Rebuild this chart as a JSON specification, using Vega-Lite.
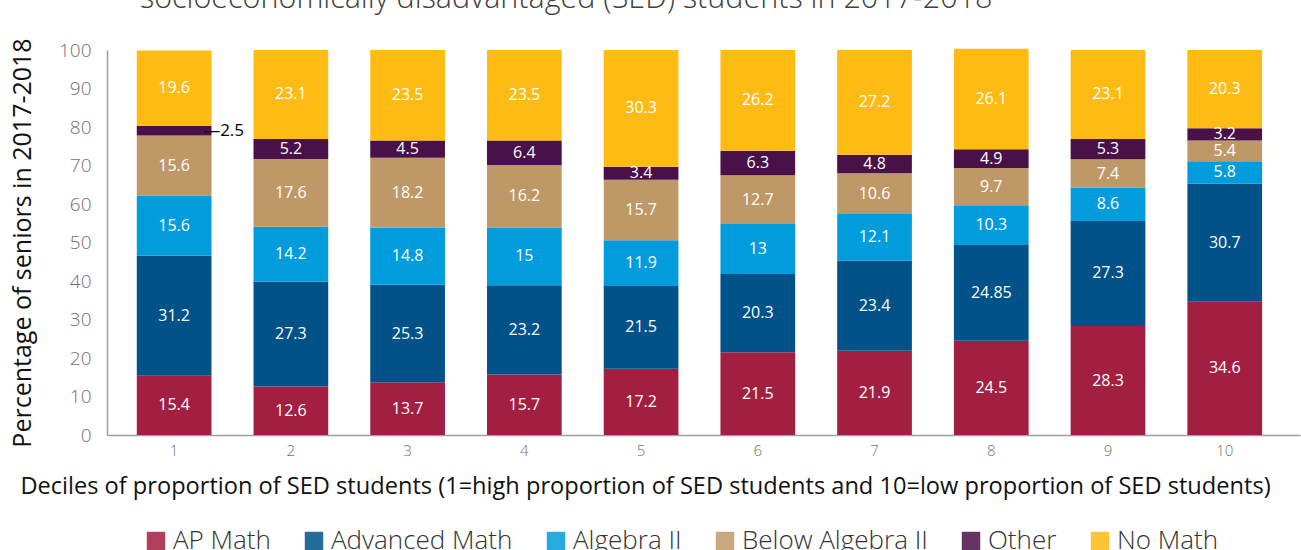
{
  "$schema": "https://vega.github.io/schema/vega-lite/v6.json",
  "autosize": {"type": "none"},
  "width": 1193,
  "height": 385,
  "padding": {"left": 107, "top": 50, "right": 1, "bottom": 115},
  "background": "white",
  "title": {
    "text": "socioeconomically disadvantaged (SED) students in 2017-2018",
    "anchor": "start",
    "frame": "group",
    "dx": 33,
    "offset": -1,
    "baseline": "alphabetic",
    "font": "Open Sans",
    "fontSize": 30.5,
    "fontWeight": 300,
    "color": "#404040"
  },
  "config": {
    "view": {"stroke": null},
    "font": "Open Sans",
    "axisY": {
      "tickCount": 10,
      "labelOverlap": false,
      "grid": false,
      "ticks": false,
      "labelFontSize": 19,
      "labelColor": "#707070",
      "labelFontWeight": 300,
      "labelPadding": 16,
      "domainColor": "#a0a0a0",
      "domainWidth": 1.5,
      "titleFontSize": 25,
      "titleFontWeight": "normal",
      "titleColor": "#111111",
      "titlePadding": 23
    }
  },
  "data": {
    "values": [
      {"d": 1, "c": "AP Math", "k": 1, "v": 15.4},
      {"d": 1, "c": "Advanced Math", "k": 2, "v": 31.2},
      {"d": 1, "c": "Algebra II", "k": 3, "v": 15.6},
      {"d": 1, "c": "Below Algebra II", "k": 4, "v": 15.6},
      {"d": 1, "c": "Other", "k": 5, "v": 2.5},
      {"d": 1, "c": "No Math", "k": 6, "v": 19.6},
      {"d": 2, "c": "AP Math", "k": 1, "v": 12.6},
      {"d": 2, "c": "Advanced Math", "k": 2, "v": 27.3},
      {"d": 2, "c": "Algebra II", "k": 3, "v": 14.2},
      {"d": 2, "c": "Below Algebra II", "k": 4, "v": 17.6},
      {"d": 2, "c": "Other", "k": 5, "v": 5.2},
      {"d": 2, "c": "No Math", "k": 6, "v": 23.1},
      {"d": 3, "c": "AP Math", "k": 1, "v": 13.7},
      {"d": 3, "c": "Advanced Math", "k": 2, "v": 25.3},
      {"d": 3, "c": "Algebra II", "k": 3, "v": 14.8},
      {"d": 3, "c": "Below Algebra II", "k": 4, "v": 18.2},
      {"d": 3, "c": "Other", "k": 5, "v": 4.5},
      {"d": 3, "c": "No Math", "k": 6, "v": 23.5},
      {"d": 4, "c": "AP Math", "k": 1, "v": 15.7},
      {"d": 4, "c": "Advanced Math", "k": 2, "v": 23.2},
      {"d": 4, "c": "Algebra II", "k": 3, "v": 15},
      {"d": 4, "c": "Below Algebra II", "k": 4, "v": 16.2},
      {"d": 4, "c": "Other", "k": 5, "v": 6.4},
      {"d": 4, "c": "No Math", "k": 6, "v": 23.5},
      {"d": 5, "c": "AP Math", "k": 1, "v": 17.2},
      {"d": 5, "c": "Advanced Math", "k": 2, "v": 21.5},
      {"d": 5, "c": "Algebra II", "k": 3, "v": 11.9},
      {"d": 5, "c": "Below Algebra II", "k": 4, "v": 15.7},
      {"d": 5, "c": "Other", "k": 5, "v": 3.4},
      {"d": 5, "c": "No Math", "k": 6, "v": 30.3},
      {"d": 6, "c": "AP Math", "k": 1, "v": 21.5},
      {"d": 6, "c": "Advanced Math", "k": 2, "v": 20.3},
      {"d": 6, "c": "Algebra II", "k": 3, "v": 13},
      {"d": 6, "c": "Below Algebra II", "k": 4, "v": 12.7},
      {"d": 6, "c": "Other", "k": 5, "v": 6.3},
      {"d": 6, "c": "No Math", "k": 6, "v": 26.2},
      {"d": 7, "c": "AP Math", "k": 1, "v": 21.9},
      {"d": 7, "c": "Advanced Math", "k": 2, "v": 23.4},
      {"d": 7, "c": "Algebra II", "k": 3, "v": 12.1},
      {"d": 7, "c": "Below Algebra II", "k": 4, "v": 10.6},
      {"d": 7, "c": "Other", "k": 5, "v": 4.8},
      {"d": 7, "c": "No Math", "k": 6, "v": 27.2},
      {"d": 8, "c": "AP Math", "k": 1, "v": 24.5},
      {"d": 8, "c": "Advanced Math", "k": 2, "v": 24.85},
      {"d": 8, "c": "Algebra II", "k": 3, "v": 10.3},
      {"d": 8, "c": "Below Algebra II", "k": 4, "v": 9.7},
      {"d": 8, "c": "Other", "k": 5, "v": 4.9},
      {"d": 8, "c": "No Math", "k": 6, "v": 26.1},
      {"d": 9, "c": "AP Math", "k": 1, "v": 28.3},
      {"d": 9, "c": "Advanced Math", "k": 2, "v": 27.3},
      {"d": 9, "c": "Algebra II", "k": 3, "v": 8.6},
      {"d": 9, "c": "Below Algebra II", "k": 4, "v": 7.4},
      {"d": 9, "c": "Other", "k": 5, "v": 5.3},
      {"d": 9, "c": "No Math", "k": 6, "v": 23.1},
      {"d": 10, "c": "AP Math", "k": 1, "v": 34.6},
      {"d": 10, "c": "Advanced Math", "k": 2, "v": 30.7},
      {"d": 10, "c": "Algebra II", "k": 3, "v": 5.8},
      {"d": 10, "c": "Below Algebra II", "k": 4, "v": 5.4},
      {"d": 10, "c": "Other", "k": 5, "v": 3.2},
      {"d": 10, "c": "No Math", "k": 6, "v": 20.3}
    ]
  },
  "transform": [
    {"stack": "v", "groupby": ["d"], "sort": [{"field": "k", "order": "ascending"}], "as": ["y0", "y1"]},
    {"calculate": "(datum.y0 + datum.y1) / 2", "as": "mid"}
  ],
  "encoding": {
    "x": {
      "field": "d",
      "type": "ordinal",
      "scale": {"paddingInner": 0.36, "paddingOuter": 0.29, "align": 0.44},
      "axis": {
        "title": "Deciles of proportion of SED students (1=high proportion of SED students and 10=low proportion of SED students)",
        "labelAngle": 0,
        "labelFontSize": 15,
        "labelColor": "#707070",
        "labelFontWeight": 300,
        "labelPadding": 8,
        "ticks": false,
        "domainColor": "#a0a0a0",
        "domainWidth": 1.5,
        "titleFontSize": 23.6,
        "titleFontWeight": "normal",
        "titleColor": "#111111",
        "titleX": 538,
        "titleY": 58,
        "titleAnchor": "middle",
        "titleAlign": "center",
        "titleBaseline": "alphabetic"
      }
    }
  },
  "layer": [
    {
      "mark": {"type": "bar"},
      "encoding": {
        "y": {
          "field": "y0",
          "type": "quantitative",
          "scale": {"domain": [0, 100], "nice": false},
          "axis": {"title": "Percentage of seniors in 2017-2018"}
        },
        "y2": {"field": "y1"},
        "color": {
          "field": "c",
          "type": "nominal",
          "sort": ["AP Math", "Advanced Math", "Algebra II", "Below Algebra II", "Other", "No Math"],
          "scale": {
            "domain": ["AP Math", "Advanced Math", "Algebra II", "Below Algebra II", "Other", "No Math"],
            "range": ["#A31F42", "#005288", "#009CDC", "#BF9868", "#4A1048", "#FDBB13"]
          },
          "legend": {
            "title": null,
            "orient": "none",
            "direction": "horizontal",
            "legendX": 36,
            "legendY": 478,
            "symbolType": "square",
            "symbolSize": 340,
            "symbolStrokeWidth": 0,
            "symbolOpacity": 0.85,
            "labelFontSize": 26,
            "labelFontWeight": 300,
            "labelColor": "#333333",
            "labelOffset": 4,
            "columnPadding": 30,
            "labelLimit": 400
          }
        }
      }
    },
    {
      "transform": [{"filter": "!(datum.d == 1 && datum.c == 'Other')"}],
      "mark": {"type": "text", "color": "white", "fontSize": 16, "baseline": "middle"},
      "encoding": {
        "y": {"field": "mid", "type": "quantitative"},
        "text": {"field": "v", "type": "quantitative"}
      }
    },
    {
      "transform": [{"filter": "datum.d == 1 && datum.c == 'Other'"}],
      "mark": {"type": "text", "color": "black", "fontSize": 17, "baseline": "middle", "align": "left", "dx": 29},
      "encoding": {
        "y": {"field": "mid", "type": "quantitative"},
        "text": {"value": "—2.5"}
      }
    }
  ]
}
